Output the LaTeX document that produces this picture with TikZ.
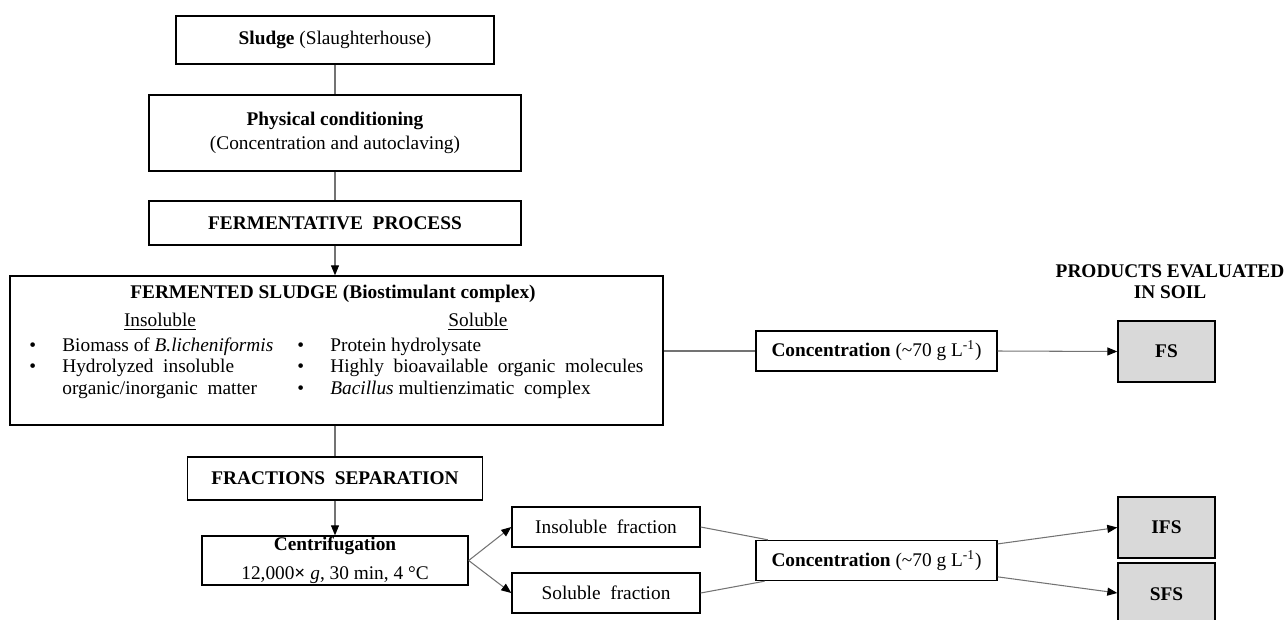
\documentclass[tikz,border=0pt]{standalone}
\usepackage{fontspec}
\setmainfont{Liberation Serif}
\usepackage{tikz}
\usetikzlibrary{arrows.meta}

\tikzset{
  box/.style={draw, line width=0.8pt, inner sep=0pt, align=center},
  prod/.style={box, fill=black!15, minimum width=1.94cm, minimum height=1.22cm},
  link/.style={draw=black!55, line width=0.6pt},
  arr/.style={link, -{Triangle[length=2mm,width=1.6mm,black]}}
}

\begin{document}
\begin{tikzpicture}[x=0.02cm, y=-0.02cm, every node/.style={font=\fontsize{11}{12.2}\selectfont}]
\useasboundingbox (0,0) rectangle (1284,619);
% main chain
\node[box, minimum width=6.36cm, minimum height=0.96cm] (sludge) at (335,40) {\textbf{Sludge} (Slaughterhouse)};
\node[box, minimum width=7.44cm, minimum height=1.52cm] (phys) at (335,133) {\textbf{Physical conditioning}\\[1.4pt](Concentration and autoclaving)};
\node[box, minimum width=7.44cm, minimum height=0.88cm] (ferm) at (335,223) {\textbf{FERMENTATIVE\ \ PROCESS}};
\node[box, minimum width=13.06cm, minimum height=2.98cm] (fsl) at (336.5,350.5) {};
\node[box, minimum width=5.9cm, minimum height=0.86cm] (frac) at (335,478.5) {\textbf{FRACTIONS\ \ SEPARATION}};
\node[box, minimum width=5.32cm, minimum height=0.98cm] (centr) at (335,560.5) {\textbf{Centrifugation}\\[4.5pt]12,000\textbf{×}\ \textit{g}, 30 min, 4~°C};

% inside the fermented sludge box
\node (fsltitle) at (333,294) {\textbf{FERMENTED SLUDGE (Biostimulant complex)}};
\node (insolhd) at (160,322) {\underline{Insoluble}};
\node (solhd) at (478,322) {\underline{Soluble}};
\node[anchor=north west, inner sep=0pt] (insol) at (29,336) {%
  \begin{tabular}{@{}p{0.66cm}@{}l@{}}
  \textbullet & Biomass of \textit{B.licheniformis}\\
  \textbullet & Hydrolyzed\ \ insoluble\\
              & organic/inorganic\ \ matter
  \end{tabular}};
\node[anchor=north west, inner sep=0pt] (sol) at (297,336) {%
  \begin{tabular}{@{}p{0.66cm}@{}l@{}}
  \textbullet & Protein hydrolysate\\
  \textbullet & Highly\ \ bioavailable\ \ organic\ \ molecules\\
  \textbullet & \textit{Bacillus} multienzimatic\ \ complex
  \end{tabular}};

% fractions and concentration
\node[box, minimum width=3.76cm, minimum height=0.8cm] (ins) at (606,527) {Insoluble\ \ fraction};
\node[box, minimum width=3.76cm, minimum height=0.8cm] (solf) at (606,593) {Soluble\ \ fraction};
\node[box, minimum width=4.82cm, minimum height=0.8cm] (conc1) at (876.5,351) {\textbf{Concentration} (\textasciitilde70 g L\textsuperscript{-1})};
\node[box, minimum width=4.82cm, minimum height=0.8cm] (conc2) at (876.5,560.5) {\textbf{Concentration} (\textasciitilde70 g L\textsuperscript{-1})};

% products
\node[align=center] (prodhd) at (1170,282) {\textbf{PRODUCTS EVALUATED}\\[-0.2pt]\textbf{IN SOIL}};
\node[prod] (fs) at (1166.5,351.5) {\textbf{FS}};
\node[prod] (ifs) at (1166.5,527.5) {\textbf{IFS}};
\node[prod, minimum height=1.26cm] (sfs) at (1166.5,594.5) {\textbf{SFS}};

% connectors
\draw[link] (sludge) -- (phys);
\draw[link] (phys) -- (ferm);
\draw[arr] (ferm) -- (fsl.north -| ferm);
\draw[link] (fsl.south -| frac) -- (frac);
\draw[arr] (frac) -- (centr);
\draw[arr] (centr.east) -- (ins.west);
\draw[arr] (centr.east) -- (solf.west);
\draw[link] (fsl.east |- conc1) -- (conc1.west);
\draw[arr] (conc1.east) -- (fs.west);
\draw[link] (ins.east) -- (conc2);
\draw[link] (solf.east) -- (conc2);
\draw[arr] (conc2) -- (ifs.west);
\draw[arr] (conc2) -- (sfs.west |- 0,593);
\end{tikzpicture}
\end{document}
